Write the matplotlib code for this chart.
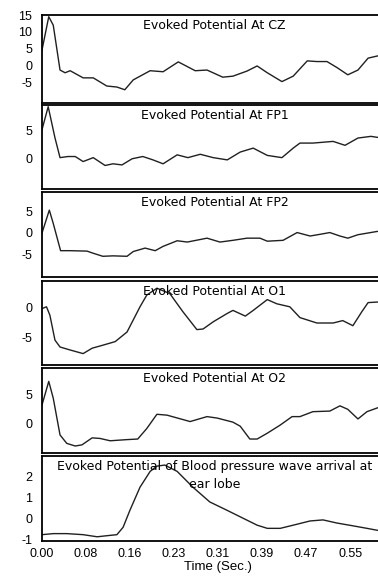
import numpy as np
import matplotlib
matplotlib.use('Agg')
import matplotlib.pyplot as plt

plt.rcParams['font.family'] = ['Liberation Sans', 'DejaVu Sans']

# time (sec.) and amplitude
t_cz = [0.0, 0.012, 0.020, 0.032, 0.041, 0.050, 0.073, 0.091, 0.115, 0.133, 0.147, 0.162,
        0.192, 0.215, 0.242, 0.272, 0.293, 0.321, 0.339, 0.364, 0.382, 0.400, 0.426, 0.446,
        0.471, 0.488, 0.506, 0.524, 0.543, 0.561, 0.579, 0.597]
v_cz = [4.7, 14.5, 12.0, -1.2, -2.0, -1.4, -3.5, -3.5, -5.9, -6.2, -7.0, -4.1,
        -1.4, -1.7, 1.2, -1.4, -1.2, -3.3, -3.0, -1.5, 0.0, -2.0, -4.6, -3.0,
        1.5, 1.3, 1.3, -0.5, -2.6, -1.2, 2.3, 3.0]

t_fp1 = [0.0, 0.011, 0.023, 0.032, 0.046, 0.059, 0.073, 0.091, 0.112, 0.126, 0.142, 0.160,
         0.179, 0.197, 0.215, 0.240, 0.259, 0.281, 0.304, 0.329, 0.352, 0.375, 0.400, 0.426,
         0.446, 0.458, 0.481, 0.517, 0.538, 0.561, 0.584, 0.597]
v_fp1 = [5.2, 9.3, 3.75, 0.2, 0.4, 0.4, -0.5, 0.2, -1.2, -0.9, -1.1, 0.0,
         0.4, -0.2, -0.9, 0.7, 0.2, 0.8, 0.2, -0.2, 1.2, 1.9, 0.6, 0.2,
         1.9, 2.8, 2.8, 3.1, 2.4, 3.7, 4.0, 3.8]

t_fp2 = [0.0, 0.013, 0.020, 0.033, 0.050, 0.080, 0.091, 0.108, 0.126, 0.151, 0.162, 0.183,
         0.201, 0.215, 0.240, 0.258, 0.293, 0.316, 0.339, 0.364, 0.387, 0.400, 0.428, 0.453,
         0.476, 0.494, 0.511, 0.529, 0.543, 0.561, 0.579, 0.597]
v_fp2 = [0.0, 5.3, 2.2, -4.1, -4.1, -4.2, -4.7, -5.4, -5.3, -5.4, -4.3, -3.5,
         -4.1, -3.1, -1.8, -2.1, -1.2, -2.1, -1.7, -1.2, -1.2, -1.9, -1.7, 0.1,
         -0.7, -0.3, 0.1, -0.7, -1.2, -0.4, 0.0, 0.4]

t_o1 = [0.0, 0.008, 0.014, 0.023, 0.032, 0.050, 0.073, 0.089, 0.108, 0.130, 0.151, 0.174,
        0.186, 0.204, 0.227, 0.250, 0.275, 0.286, 0.304, 0.329, 0.339, 0.361, 0.375, 0.400,
        0.417, 0.440, 0.458, 0.488, 0.517, 0.534, 0.552, 0.568, 0.579, 0.597]
v_o1 = [-0.2, 0.1, -1.3, -5.45, -6.6, -7.1, -7.7, -6.8, -6.3, -5.7, -4.1, 0.1,
        2.05, 3.2, 2.3, -0.7, -3.7, -3.6, -2.4, -1.0, -0.5, -1.45, -0.5, 1.3,
        0.6, 0.1, -1.7, -2.6, -2.6, -2.2, -3.05, -0.7, 0.8, 0.9]

t_o2 = [0.0, 0.012, 0.020, 0.032, 0.044, 0.059, 0.071, 0.089, 0.103, 0.121, 0.151, 0.170,
        0.186, 0.204, 0.222, 0.263, 0.293, 0.311, 0.339, 0.352, 0.369, 0.382, 0.400, 0.423,
        0.444, 0.458, 0.481, 0.511, 0.529, 0.543, 0.561, 0.577, 0.597]
v_o2 = [3.15, 7.2, 4.3, -2.0, -3.45, -3.9, -3.7, -2.5, -2.6, -3.0, -2.8, -2.7,
        -0.9, 1.55, 1.4, 0.3, 1.15, 0.9, 0.2, -0.5, -2.7, -2.7, -1.7, -0.3,
        1.15, 1.15, 2.0, 2.1, 3.0, 2.4, 0.75, 2.0, 2.7]

t_bp = [0.0, 0.020, 0.044, 0.073, 0.098, 0.115, 0.133, 0.144, 0.156, 0.174, 0.192, 0.204,
        0.218, 0.240, 0.268, 0.298, 0.329, 0.357, 0.382, 0.400, 0.423, 0.446, 0.476, 0.499,
        0.524, 0.552, 0.577, 0.597]
v_bp = [-0.75, -0.7, -0.7, -0.75, -0.85, -0.8, -0.75, -0.4, 0.4, 1.5, 2.25, 2.5,
        2.55, 2.25, 1.5, 0.8, 0.4, 0.03, -0.3, -0.45, -0.45, -0.3, -0.1, -0.05,
        -0.2, -0.33, -0.45, -0.55]

titles = ['Evoked Potential At CZ', 'Evoked Potential At FP1', 'Evoked Potential At FP2',
          'Evoked Potential At O1', 'Evoked Potential At O2',
          'Evoked Potential of Blood pressure wave arrival at\near lobe']
yticks = [[15, 10, 5, 0, -5], [5, 0], [5, 0, -5], [0, -5], [5, 0], [2, 1, 0, -1]]
ylims = [(-10.9, 15.0), (-5.4, 9.6), (-10.2, 9.5), (-9.6, 4.4), (-5.1, 9.5), (-1.05, 2.98)]
xticks = [0.0, 0.078, 0.156, 0.234, 0.3125, 0.39, 0.469, 0.547]
xticklabels = ['0.00', '0.08', '0.16', '0.23', '0.31', '0.39', '0.47', '0.55']

series = [(t_cz, v_cz), (t_fp1, v_fp1), (t_fp2, v_fp2), (t_o1, v_o1), (t_o2, v_o2), (t_bp, v_bp)]
# panel top/bottom in pixels
bounds = [(15, 103), (105, 189), (192, 277), (281, 365), (368, 453), (456, 541)]

W, H = 378, 583
fig = plt.figure(figsize=(W / 100, H / 100), dpi=100)

for i in range(6):
    top, bot = bounds[i]
    ax = fig.add_axes([42 / W, 1 - bot / H, 352 / W, (bot - top) / H])
    t, v = series[i]
    ax.plot(t, v, color='#202020', lw=1.0)
    ax.set_xlim(0, 0.625)
    ax.set_ylim(*ylims[i])
    ax.set_yticks(yticks[i])
    ax.set_yticklabels([str(k) for k in yticks[i]])
    ax.tick_params(axis='both', length=0, labelsize=9, pad=7)
    ax.set_xticks(xticks)
    if i == 5:
        ax.set_xticklabels(xticklabels)
        ax.tick_params(axis='x', pad=5)
        ax.set_xlabel('Time (Sec.)', fontsize=9.5, labelpad=1)
    else:
        ax.set_xticklabels([])
    for s in ax.spines.values():
        s.set_linewidth(1.3)
        s.set_color('black')
    ax.annotate(titles[i], xy=(0.49, 1), xycoords='axes fraction', xytext=(0, -3),
                textcoords='offset points', ha='center', va='top', fontsize=9,
                family='DejaVu Sans', linespacing=1.45)

fig.savefig('out.png', dpi=100)
